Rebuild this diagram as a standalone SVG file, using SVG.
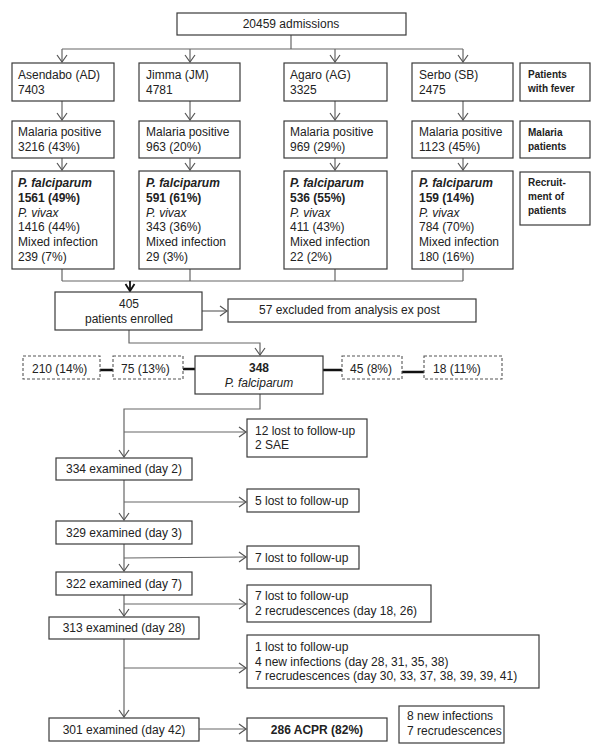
<svg xmlns="http://www.w3.org/2000/svg" width="600" height="751" viewBox="0 0 600 751">
<defs>
<marker id="ar" markerUnits="userSpaceOnUse" markerWidth="12" markerHeight="12" refX="10" refY="6" orient="auto">
<path d="M3,1 L10,6 L3,11" fill="none" stroke="#555" stroke-width="1.2"/>
</marker>
<marker id="arb" markerUnits="userSpaceOnUse" markerWidth="12" markerHeight="12" refX="10" refY="6" orient="auto">
<path d="M3,1.5 L10,6 L3,10.5" fill="none" stroke="#111" stroke-width="1.8"/>
</marker>
<style>
.b{fill:#fff;stroke:#3a3a3a;stroke-width:1.2}
.d{fill:#fff;stroke:#555;stroke-width:1.1;stroke-dasharray:3,2}
.t{font-family:"Liberation Sans",Arial,sans-serif;font-size:12px;fill:#222}
.c{text-anchor:middle}
.bo{font-weight:bold}
.i{font-style:italic}
.lb{font-family:"Liberation Sans",Arial,sans-serif;font-size:10px;font-weight:bold;fill:#222}
.l{fill:none;stroke:#666;stroke-width:1.2}
.la{fill:none;stroke:#666;stroke-width:1.2;marker-end:url(#ar)}
.th{fill:none;stroke:#111;stroke-width:2.5}
</style>
</defs>

<g id="connectors">
<path class="l" d="M291,35 V49 M62,49 H463"/>
<path class="la" d="M62,49 V62"/>
<path class="la" d="M190,49 V62"/>
<path class="la" d="M335,49 V62"/>
<path class="la" d="M463,49 V62"/>
<path class="la" d="M62,101 V120"/>
<path class="la" d="M190,101 V120"/>
<path class="la" d="M335,101 V120"/>
<path class="la" d="M463,101 V120"/>
<path class="la" d="M62,158 V170"/>
<path class="la" d="M190,158 V170"/>
<path class="la" d="M335,158 V170"/>
<path class="la" d="M463,158 V170"/>
<path class="l" d="M62,269 V281 M190,269 V281 M335,269 V281 M463,269 V281 M62,281 H463"/>
<path d="M130,281 V291" fill="none" stroke="#111" stroke-width="1.8" marker-end="url(#arb)"/>
<path class="la" d="M202,311 H227"/>
<path class="la" d="M129,330 V343 H260 V355"/>
<path class="th" d="M100,370 H113"/>
<path class="th" d="M183,369 H195"/>
<path class="th" d="M323,370 H342"/>
<path class="th" d="M402,372 H424"/>
<path class="la" d="M260,394 V409 H124 V457"/>
<path class="la" d="M124,432 H246"/>
<path class="la" d="M124,480 V520"/>
<path class="la" d="M124,502 H246"/>
<path class="la" d="M124,544 V571"/>
<path class="la" d="M124,558 L246,557"/>
<path class="la" d="M124,595 V616"/>
<path class="la" d="M124,604 H246"/>
<path class="la" d="M124,639 V717"/>
<path class="la" d="M124,668 H246"/>
<path class="la" d="M199,729 H246"/>
</g>

<g id="admissions"><rect class="b" x="177" y="13" width="229" height="22"/><text class="t c" x="291" y="28">20459 admissions</text></g>

<g id="ad"><rect class="b" x="12" y="63" width="102" height="38"/><text class="t" x="18" y="79">Asendabo (AD)</text><text class="t" x="18" y="94">7403</text></g>
<g id="jm"><rect class="b" x="139" y="63" width="101" height="38"/><text class="t" x="146" y="79">Jimma (JM)</text><text class="t" x="146" y="94">4781</text></g>
<g id="ag"><rect class="b" x="284" y="63" width="103" height="38"/><text class="t" x="290" y="79">Agaro (AG)</text><text class="t" x="290" y="94">3325</text></g>
<g id="sb"><rect class="b" x="412" y="63" width="101" height="38"/><text class="t" x="419" y="79">Serbo (SB)</text><text class="t" x="419" y="94">2475</text></g>
<g id="lbl1"><rect class="b" x="520" y="63" width="70" height="38"/><text class="lb" x="528" y="78">Patients</text><text class="lb" x="528" y="92">with fever</text></g>

<g id="ad-mp"><rect class="b" x="12" y="121" width="102" height="37"/><text class="t" x="18" y="136">Malaria positive</text><text class="t" x="18" y="151">3216 (43%)</text></g>
<g id="jm-mp"><rect class="b" x="139" y="121" width="101" height="37"/><text class="t" x="146" y="136">Malaria positive</text><text class="t" x="146" y="151">963 (20%)</text></g>
<g id="ag-mp"><rect class="b" x="284" y="121" width="103" height="37"/><text class="t" x="290" y="136">Malaria positive</text><text class="t" x="290" y="151">969 (29%)</text></g>
<g id="sb-mp"><rect class="b" x="412" y="121" width="101" height="37"/><text class="t" x="419" y="136">Malaria positive</text><text class="t" x="419" y="151">1123 (45%)</text></g>
<g id="lbl2"><rect class="b" x="520" y="121" width="70" height="37"/><text class="lb" x="528" y="136">Malaria</text><text class="lb" x="528" y="150">patients</text></g>

<g id="ad-sp"><rect class="b" x="12" y="171" width="102" height="98"/>
<text class="t bo i" x="18" y="187">P. falciparum</text><text class="t bo" x="18" y="202">1561 (49%)</text><text class="t i" x="18" y="216.5">P. vivax</text><text class="t" x="18" y="231">1416 (44%)</text><text class="t" x="18" y="246">Mixed infection</text><text class="t" x="18" y="260.5">239 (7%)</text></g>
<g id="jm-sp"><rect class="b" x="139" y="171" width="101" height="98"/>
<text class="t bo i" x="146" y="187">P. falciparum</text><text class="t bo" x="146" y="202">591 (61%)</text><text class="t i" x="146" y="216.5">P. vivax</text><text class="t" x="146" y="231">343 (36%)</text><text class="t" x="146" y="246">Mixed infection</text><text class="t" x="146" y="260.5">29 (3%)</text></g>
<g id="ag-sp"><rect class="b" x="284" y="171" width="103" height="98"/>
<text class="t bo i" x="290" y="187">P. falciparum</text><text class="t bo" x="290" y="202">536 (55%)</text><text class="t i" x="290" y="216.5">P. vivax</text><text class="t" x="290" y="231">411 (43%)</text><text class="t" x="290" y="246">Mixed infection</text><text class="t" x="290" y="260.5">22 (2%)</text></g>
<g id="sb-sp"><rect class="b" x="412" y="171" width="101" height="98"/>
<text class="t bo i" x="419" y="187">P. falciparum</text><text class="t bo" x="419" y="202">159 (14%)</text><text class="t i" x="419" y="216.5">P. vivax</text><text class="t" x="419" y="231">784 (70%)</text><text class="t" x="419" y="246">Mixed infection</text><text class="t" x="419" y="260.5">180 (16%)</text></g>
<g id="lbl3"><rect class="b" x="520" y="172" width="70" height="53"/><text class="lb" x="528" y="186">Recruit-</text><text class="lb" x="528" y="200">ment of</text><text class="lb" x="528" y="214">patients</text></g>

<g id="enrolled"><rect class="b" x="55" y="292" width="147" height="38"/><text class="t c" x="129" y="308">405</text><text class="t c" x="129" y="323">patients enrolled</text></g>
<g id="excluded"><rect class="b" x="228" y="299" width="248" height="23"/><text class="t" x="259" y="314">57 excluded from analysis ex post</text></g>

<g id="d210"><rect class="d" x="23" y="356" width="77" height="23"/><text class="t" x="32" y="373">210 (14%)</text></g>
<g id="d75"><rect class="d" x="113" y="356" width="70" height="23"/><text class="t" x="121" y="373">75 (13%)</text></g>
<g id="pf348"><rect class="b" x="195" y="356" width="128" height="38"/><text class="t c bo" x="259" y="372">348</text><text class="t c i" x="259" y="387">P. falciparum</text></g>
<g id="d45"><rect class="d" x="342" y="356" width="60" height="23"/><text class="t" x="350" y="373">45 (8%)</text></g>
<g id="d18"><rect class="d" x="424" y="356" width="78" height="23"/><text class="t" x="433" y="373">18 (11%)</text></g>

<g id="lost12"><rect class="b" x="247" y="419" width="120" height="38"/><text class="t" x="255" y="435">12 lost to follow-up</text><text class="t" x="255" y="449">2 SAE</text></g>
<g id="d2"><rect class="b" x="56" y="458" width="136" height="22"/><text class="t c" x="124" y="473">334 examined (day 2)</text></g>
<g id="lost5"><rect class="b" x="247" y="489" width="112" height="23"/><text class="t" x="255" y="505">5 lost to follow-up</text></g>
<g id="d3"><rect class="b" x="56" y="521" width="136" height="23"/><text class="t c" x="124" y="537">329 examined (day 3)</text></g>
<g id="lost7a"><rect class="b" x="247" y="546" width="112" height="23"/><text class="t" x="255" y="562">7 lost to follow-up</text></g>
<g id="d7"><rect class="b" x="56" y="572" width="136" height="23"/><text class="t c" x="124" y="588">322 examined (day 7)</text></g>
<g id="lost7b"><rect class="b" x="247" y="585" width="184" height="37"/><text class="t" x="255" y="600">7 lost to follow-up</text><text class="t" x="255" y="615">2 recrudescences (day 18, 26)</text></g>
<g id="d28"><rect class="b" x="49" y="617" width="150" height="22"/><text class="t c" x="124" y="632">313 examined (day 28)</text></g>
<g id="lost1"><rect class="b" x="247" y="635" width="292" height="53"/><text class="t" x="255" y="651">1 lost to follow-up</text><text class="t" x="255" y="665.5">4 new infections (day 28, 31, 35, 38)</text><text class="t" x="255" y="680">7 recrudescences (day 30, 33, 37, 38, 39, 39, 41)</text></g>
<g id="d42"><rect class="b" x="49" y="718" width="150" height="23"/><text class="t c" x="124" y="734">301 examined (day 42)</text></g>
<g id="acpr"><rect class="b" x="247" y="718" width="140" height="23"/><text class="t c bo" x="317" y="734">286 ACPR (82%)</text></g>
<g id="summary"><rect class="b" x="399" y="706" width="105" height="37"/><text class="t" x="407" y="720">8 new infections</text><text class="t" x="407" y="735">7 recrudescences</text></g>
</svg>
